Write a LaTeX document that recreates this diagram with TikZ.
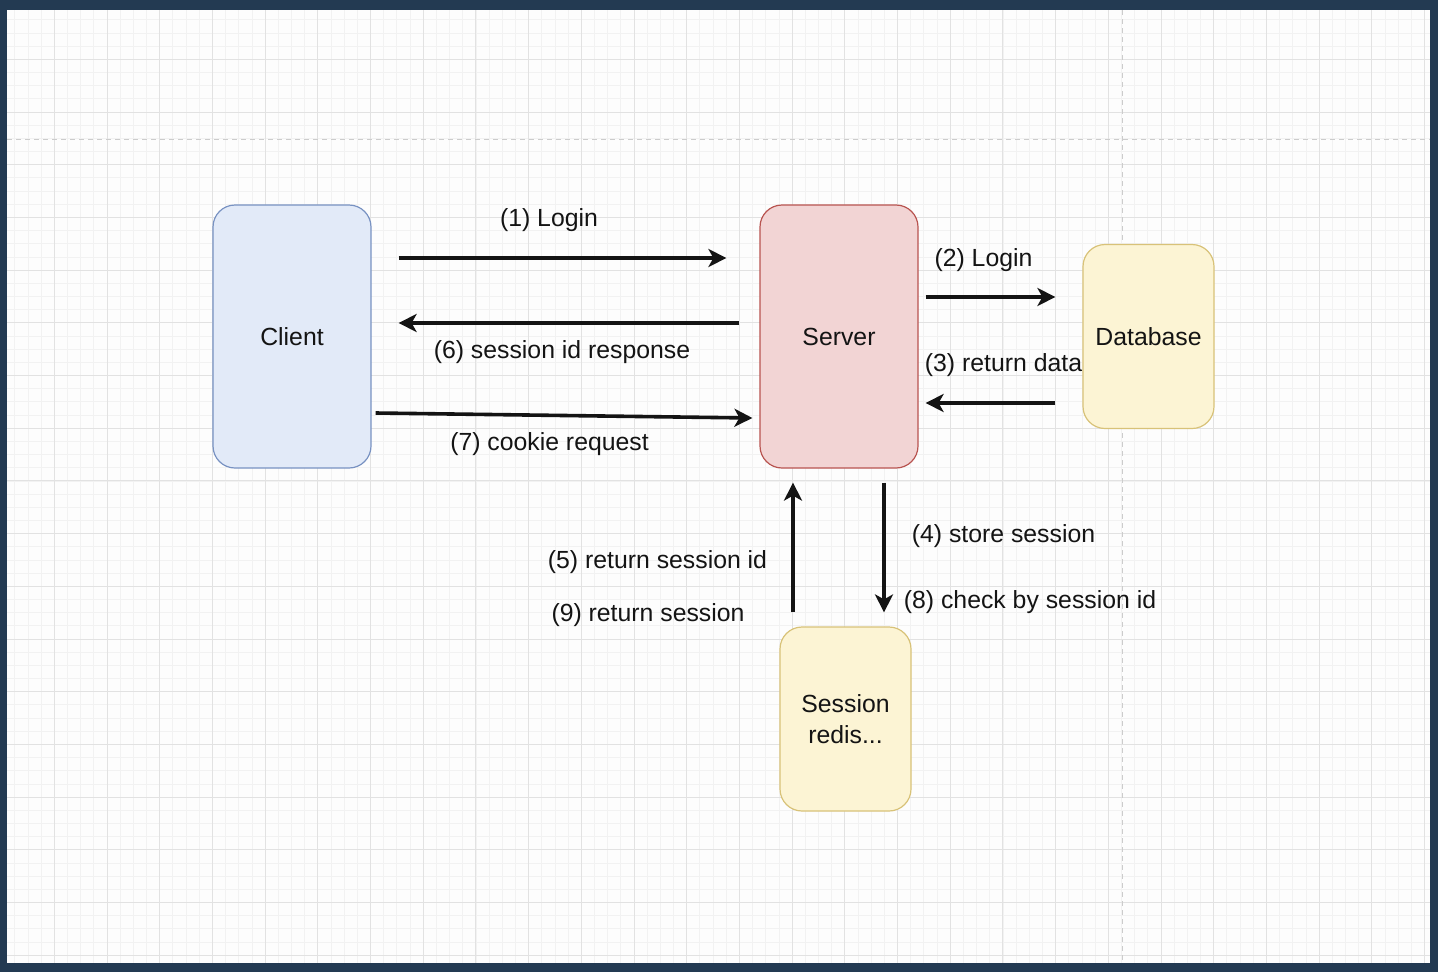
\documentclass[tikz,border=0pt]{standalone}
\usepackage{fontspec}
\setmainfont{Liberation Sans}
\usepackage{tikz}
\usetikzlibrary{calc}
\usetikzlibrary{arrows.meta}
\usetikzlibrary{positioning}
\definecolor{frame}{RGB}{35, 58, 82}
\definecolor{paper}{RGB}{253, 253, 253}
\definecolor{gridminor}{RGB}{242, 242, 242}
\definecolor{gridmajor}{RGB}{226, 226, 226}
\definecolor{guide}{RGB}{204, 204, 204}
\definecolor{clientfill}{RGB}{226, 234, 248}
\definecolor{clientline}{RGB}{120, 146, 194}
\definecolor{serverfill}{RGB}{242, 212, 212}
\definecolor{serverline}{RGB}{184, 84, 80}
\definecolor{storefill}{RGB}{252, 244, 212}
\definecolor{storeline}{RGB}{216, 194, 120}
\definecolor{ink}{RGB}{20, 20, 20}
\tikzset{
    box/.style={rounded corners=22pt, line width=1.2pt, align=center, text=ink,
                font=\fontsize{24.8}{31}\selectfont},
    bigbox/.style={box, minimum width=158pt, minimum height=263pt},
    smallbox/.style={box, minimum width=131pt, minimum height=184pt},
    flow/.style={-{Stealth[length=18pt, width=18pt, inset=5pt]}, line width=3.6pt, ink},
    lbl/.style={text=ink, inner sep=0pt, font=\fontsize{24.8}{31}\selectfont}
}

\begin{document}
\begin{tikzpicture}[x=1pt, y=-1pt]
    \useasboundingbox (0,0) rectangle (1438,972);
    \fill[frame] (0,0) rectangle (1438,972);
    \fill[paper] (7,10) rectangle (1430,963);
    \begin{scope}
        \clip (7,10) rectangle (1430,963);
        \foreach \i in {0,...,108}
            \draw[gridminor, line width=0.8pt] ({1.6+13.175*\i},10) -- ++(0,953);
        \foreach \j in {0,...,72}
            \draw[gridminor, line width=0.8pt] (7,{6.6+13.175*\j}) -- ++(1423,0);
        \foreach \i in {0,...,27}
            \draw[gridmajor, line width=0.9pt] ({1.6+52.7*\i},10) -- ++(0,953);
        \foreach \j in {0,...,18}
            \draw[gridmajor, line width=0.9pt] (7,{6.6+52.7*\j}) -- ++(1423,0);
        \draw[guide, line width=1pt, dash pattern=on 5pt off 4pt] (7,139) -- (1430,139);
        \draw[guide, line width=1pt, dash pattern=on 5pt off 4pt] (1122,10) -- (1122,963);
    \end{scope}

    \node[bigbox, draw=clientline, fill=clientfill]   (client)   at ( 292.0, 336.5) {Client};
    \node[bigbox, draw=serverline, fill=serverfill]   (server)   at ( 839.0, 336.5) {Server};
    \node[smallbox, draw=storeline, fill=storefill]   (database) at (1148.5, 336.5) {Database};
    \node[smallbox, draw=storeline, fill=storefill]   (session)  at ( 845.5, 719.0) {Session\\redis...};

    \draw[flow] ($(client.east)+(27,-78.5)$)   -- ($(server.west)+(-33,-78.5)$);
    \draw[flow] ($(server.west)+(-20,-13.5)$)  -- ($(client.east)+(27,-13.5)$);
    \draw[flow] ($(client.east)+(4,76.5)$)     -- ($(server.west)+(-7,81.5)$);
    \draw[flow] ($(server.east)+(7,-39.5)$)    -- ($(database.west)+(-27,-39.5)$);
    \draw[flow] ($(database.west)+(-27,66.5)$) -- ($(server.east)+(7,66.5)$);
    \draw[flow] ($(session.north)+(-52.5,-14)$) -- ($(server.south)+(-46,14)$);
    \draw[flow] ($(server.south)+(45,14)$)     -- ($(session.north)+(38.5,-14)$);

    \node[lbl] (login)    at ( 549.0, 220) {(1) Login};
    \node[lbl] (response) at ( 562.0, 352) {(6) session id response};
    \node[lbl] (cookie)   at ( 549.5, 444) {(7) cookie request};
    \node[lbl] (dblogin)  at ( 983.5, 260) {(2) Login};
    \node[lbl] (dbreturn) at (1003.5, 365) {(3) return data};
    \node[lbl] (retid)    at ( 657.5, 562) {(5) return session id};
    \node[lbl] (retsess)  at ( 648.0, 615) {(9) return session};
    \node[lbl] (store)    at (1003.5, 536) {(4) store session};
    \node[lbl] (check)    at (1030.0, 602) {(8) check by session id};
\end{tikzpicture}
\end{document}
